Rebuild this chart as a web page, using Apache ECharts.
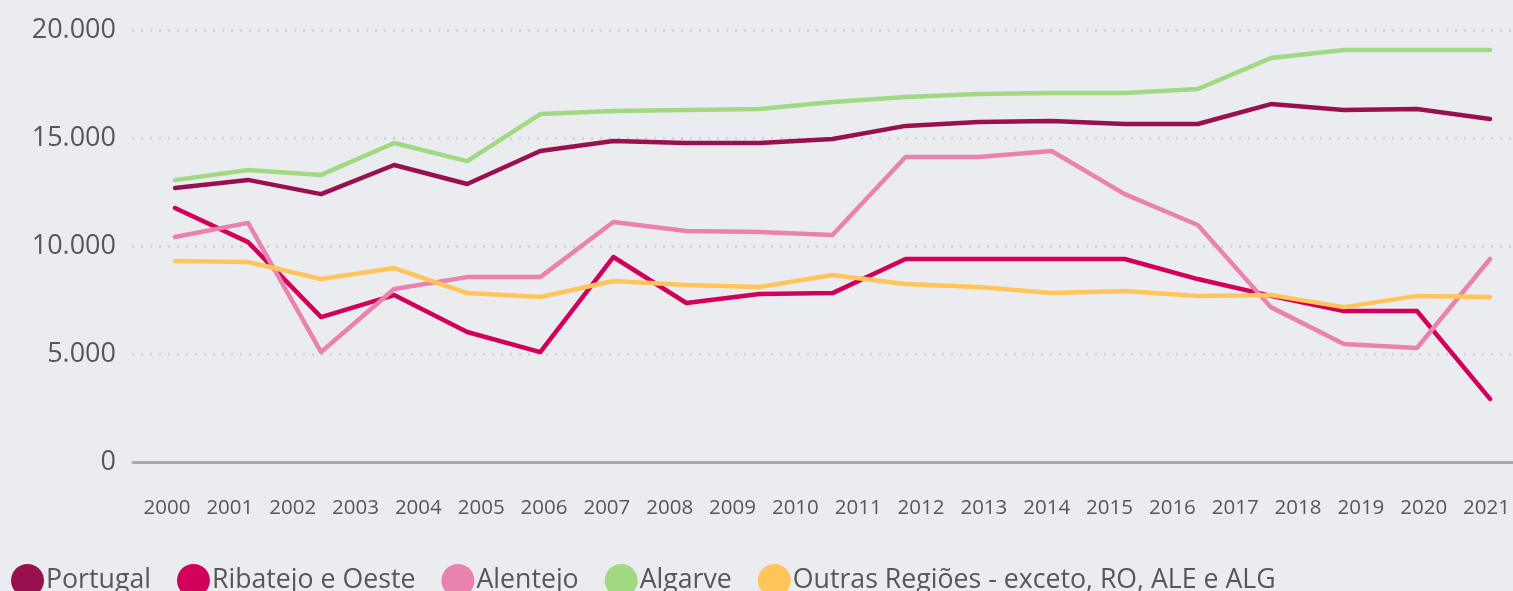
<!DOCTYPE html>
<html>
<head>
<meta charset="utf-8">
<script src="https://cdn.jsdelivr.net/npm/echarts@6/dist/echarts.min.js"></script>
<style>
  html, body { margin: 0; padding: 0; background: #ebecf0; }
  #chart { width: 1513px; height: 591px; }
</style>
</head>
<body>
<div id="chart"></div>
<script>
// rótulos do eixo (22 anos) e valores (19 pontos por série)
const years = ['2000', '2001', '2002', '2003', '2004', '2005', '2006', '2007', '2008', '2009', '2010',
  '2011', '2012', '2013', '2014', '2015', '2016', '2017', '2018', '2019', '2020', '2021']
const yTicks = [0, 5000, 10000, 15000, 20000]

const portugal = [12690, 13060, 12400, 13750, 12870, 14400, 14860, 14770, 14770, 14950,
  15560, 15740, 15790, 15650, 15650, 16570, 16300, 16340, 15880]
const ribatejo = [11760, 10180, 6710, 7730, 6020, 5090, 9490, 7360, 7780, 7820,
  9400, 9400, 9400, 9400, 8470, 7690, 6990, 6990, 2920]
const alentejo = [10420, 11070, 5090, 8010, 8560, 8560, 11110, 10690, 10650, 10510,
  14120, 14120, 14400, 12400, 10970, 7170, 5460, 5280, 9400]
const algarve = [13050, 13520, 13290, 14770, 13930, 16110, 16250, 16300, 16340, 16670,
  16900, 17040, 17080, 17080, 17270, 18700, 19070, 19070, 19070]
const outras = [9310, 9260, 8470, 8980, 7820, 7640, 8380, 8190, 8100, 8660,
  8240, 8100, 7820, 7920, 7690, 7730, 7170, 7690, 7640]

const seriesNames = ['Portugal', 'Ribatejo e Oeste', 'Alentejo', 'Algarve', 'Outras Regiões - exceto, RO, ALE e ALG']
const seriesData = [portugal, ribatejo, alentejo, algarve, outras]
const colors = ['#99104f', '#d2005a', '#e983ad', '#a1d983', '#ffc55a']

const textColor = '#54585a'
const font = 'Open Sans'

const chart = echarts.init(document.getElementById('chart'))
const pointSlots = portugal.map((v, i) => String(i))

const option = {
  backgroundColor: '#ebecf0',
  animation: false,
  color: colors,
  grid: [
    // eixos, grelha pontilhada
    { left: 133, right: 0, top: 30, bottom: 129 },
    // linhas
    { left: 175, right: 23, top: 30, bottom: 129 },
    // rótulos dos anos
    { left: 167, right: 25, top: 30, bottom: 129 }
  ],
  legend: {
    left: 6,
    top: 559,
    icon: 'circle',
    itemWidth: 33,
    itemHeight: 33,
    itemGap: 26,
    data: seriesNames,
    textStyle: { fontFamily: font, fontSize: 26.7, color: textColor, padding: [0, 0, 0, -3] }
  },
  xAxis: [
    {
      gridIndex: 0, type: 'category', data: years,
      axisLine: { lineStyle: { color: '#a9aaac', width: 3 } },
      axisTick: { show: false }, axisLabel: { show: false }
    },
    {
      gridIndex: 1, type: 'category', data: pointSlots, boundaryGap: false, show: false
    },
    {
      gridIndex: 2, type: 'category', data: years, boundaryGap: false,
      axisLine: { show: false }, axisTick: { show: false },
      axisLabel: { interval: 0, margin: 36, fontFamily: font, fontSize: 20.5, color: textColor }
    }
  ],
  yAxis: [
    {
      gridIndex: 0, type: 'value', min: yTicks[0], max: yTicks[yTicks.length - 1], interval: 5000,
      axisLine: { show: false }, axisTick: { show: false },
      axisLabel: {
        margin: 17, fontFamily: font, fontSize: 27, color: textColor,
        formatter: v => String(v).replace(/\B(?=(\d{3})+(?!\d))/g, '.')
      },
      splitLine: { lineStyle: { color: '#cdced2', width: 2.5, type: [0.1, 8.9], cap: 'round' } }
    },
    { gridIndex: 1, type: 'value', min: 0, max: 20000, show: false, splitLine: { show: false } },
    { gridIndex: 2, type: 'value', min: 0, max: 20000, show: false, splitLine: { show: false } }
  ],
  series: seriesNames.map((name, i) => ({
    name: name,
    type: 'line',
    xAxisIndex: 1,
    yAxisIndex: 1,
    data: seriesData[i],
    symbol: 'none',
    lineStyle: { width: 4.5, color: colors[i], cap: 'round', join: 'round' },
    z: i === 0 ? 3 : 2
  }))
}

chart.setOption(option)
</script>
</body>
</html>
